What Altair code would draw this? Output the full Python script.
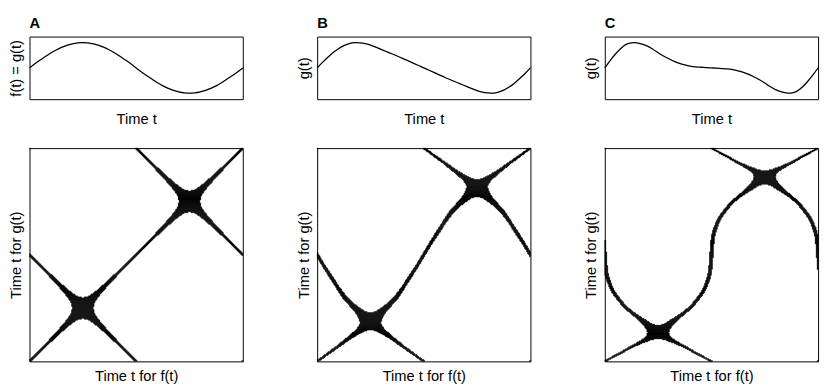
import numpy as np
import pandas as pd
import altair as alt

# ---------------- data ----------------
TIME = [round(k * 0.025, 3) for k in range(41)]

# A: f(t) = g(t)
F_A = [0.0, 0.16, 0.31, 0.45, 0.59, 0.71, 0.81, 0.89, 0.95, 0.99, 1.0,
       0.99, 0.95, 0.89, 0.81, 0.71, 0.59, 0.45, 0.31, 0.16, 0.0,
       -0.16, -0.31, -0.45, -0.59, -0.71, -0.81, -0.89, -0.95, -0.99, -1.0,
       -0.99, -0.95, -0.89, -0.81, -0.71, -0.59, -0.45, -0.31, -0.16, 0.0]

# B: g(t)
G_B = [0.0, 0.22, 0.42, 0.61, 0.76, 0.88, 0.96, 1.0, 0.99, 0.96, 0.90,
       0.82, 0.73, 0.645, 0.56, 0.47, 0.38, 0.285, 0.19, 0.095, 0.0,
       -0.095, -0.19, -0.285, -0.38, -0.47, -0.56, -0.645, -0.73, -0.82, -0.90,
       -0.96, -0.99, -1.0, -0.96, -0.88, -0.76, -0.61, -0.42, -0.22, 0.0]

# C: g(t)
G_C = [0.0, 0.29, 0.55, 0.77, 0.93, 0.995, 0.99, 0.94, 0.86, 0.74, 0.60,
       0.47, 0.36, 0.26, 0.18, 0.12, 0.07, 0.04, 0.025, 0.012, 0.0,
       -0.012, -0.025, -0.04, -0.07, -0.12, -0.18, -0.26, -0.36, -0.47, -0.60,
       -0.74, -0.86, -0.94, -0.99, -0.995, -0.93, -0.77, -0.55, -0.29, 0.0]

LETTERS = ["A", "B", "C"]
TOP_Y_TITLES = ["f(t) = g(t)", "g(t)", "g(t)"]
TOP_X_TITLE = "Time t"
BOT_X_TITLE = "Time t for f(t)"
BOT_Y_TITLE = "Time t for g(t)"
SERIES = [F_A, G_B, G_C]

EPS = 0.05      # recurrence threshold |f(t1) - g(t2)| < EPS
N = 218         # grid resolution of the recurrence plot


def natural_spline(x, y, xq):
    x = np.asarray(x, float); y = np.asarray(y, float)
    n = len(x)
    h = np.diff(x)
    A = np.zeros((n, n)); r = np.zeros(n)
    A[0, 0] = 1; A[-1, -1] = 1
    for i in range(1, n - 1):
        A[i, i - 1] = h[i - 1]
        A[i, i] = 2 * (h[i - 1] + h[i])
        A[i, i + 1] = h[i]
        r[i] = 6 * ((y[i + 1] - y[i]) / h[i] - (y[i] - y[i - 1]) / h[i - 1])
    M = np.linalg.solve(A, r)
    idx = np.clip(np.searchsorted(x, xq) - 1, 0, n - 2)
    x0 = x[idx]; x1 = x[idx + 1]; hh = x1 - x0
    return (M[idx] * (x1 - xq) ** 3 / (6 * hh) + M[idx + 1] * (xq - x0) ** 3 / (6 * hh)
            + (y[idx] / hh - M[idx] * hh / 6) * (x1 - xq)
            + (y[idx + 1] / hh - M[idx + 1] * hh / 6) * (xq - x0))


tq = (np.arange(N) + 0.5) / N
f_dense = natural_spline(TIME, F_A, tq)


def recurrence_rects(g_vals):
    g_dense = natural_spline(TIME, g_vals, tq)
    rows = []
    for j in range(N):
        mask = np.abs(f_dense - g_dense[j]) < EPS
        p = np.concatenate([[0], mask.astype(int), [0]])
        d = np.diff(p)
        for s, e in zip(np.where(d == 1)[0], np.where(d == -1)[0]):
            rows.append({"x0": s / N, "x1": e / N, "y0": j / N, "y1": (j + 1) / N})
    return pd.DataFrame(rows)


FONT = "Liberation Sans"
unit = alt.Scale(domain=[0, 1], nice=False, zero=False)

columns = []
for letter, ytitle, g in zip(LETTERS, TOP_Y_TITLES, SERIES):
    line_df = pd.DataFrame({"t": TIME, "v": g})
    top = alt.Chart(line_df).mark_line(
        color="black", strokeWidth=1.3, interpolate="natural"
    ).encode(
        x=alt.X("t:Q", scale=unit,
                axis=alt.Axis(title=TOP_X_TITLE, labels=False, ticks=False,
                              domain=False, grid=False, titlePadding=13)),
        y=alt.Y("v:Q", scale=alt.Scale(domain=[-1.24, 1.24], nice=False, zero=False),
                axis=alt.Axis(title=ytitle, labels=False, ticks=False,
                              domain=False, grid=False, titlePadding=6)),
    ).properties(
        width=218, height=64,
        title=alt.TitleParams(letter, anchor="start", frame="group", offset=6),
    )

    rec = recurrence_rects(g)
    bottom = alt.Chart(rec).mark_rect(
        color="black", stroke="black", strokeWidth=0.4
    ).encode(
        x=alt.X("x0:Q", scale=unit,
                axis=alt.Axis(title=BOT_X_TITLE, labels=False, ticks=False,
                              domain=False, grid=False, titlePadding=8)),
        x2="x1:Q",
        y=alt.Y("y0:Q", scale=unit,
                axis=alt.Axis(title=BOT_Y_TITLE, labels=False, ticks=False,
                              domain=False, grid=False, titlePadding=6)),
        y2="y1:Q",
    ).properties(width=218, height=218)

    columns.append(alt.vconcat(top, bottom, spacing=20))

chart = alt.hconcat(*columns, spacing=50).properties(
    padding={"left": 0, "top": 3, "right": 0, "bottom": 0},
    background="white",
).configure_view(
    stroke="black", strokeWidth=1
).configure_axis(
    titleFont=FONT, titleFontSize=15, titleFontWeight="normal", titleColor="black"
).configure_title(
    font=FONT, fontSize=15, fontWeight="bold", color="black"
)

chart.save("out.html", embed_options={"renderer": "svg", "actions": False})
